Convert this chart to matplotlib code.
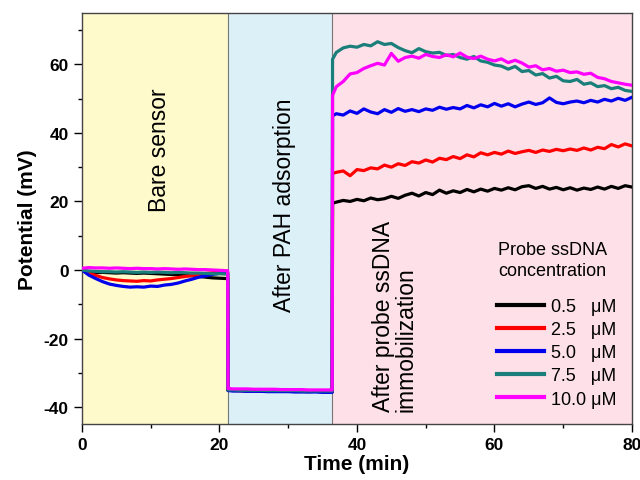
import numpy as np
import matplotlib
matplotlib.use('Agg')
import matplotlib.pyplot as plt
from matplotlib.ticker import MultipleLocator

plt.rcParams['font.family'] = ['Liberation Sans', 'DejaVu Sans']
plt.rcParams['axes.unicode_minus'] = False

# stage boundaries (min)
t_bare_end = 21.2
t_pah_end = 36.4

# time grids for the three stages
t_bare = list(range(0, 22)) + [21.2]
t_pah = [21.25] + list(range(22, 37)) + [36.4]
t_probe = [36.45] + list(range(37, 81))

labels = ['0.5   \u03bcM', '2.5   \u03bcM', '5.0   \u03bcM', '7.5   \u03bcM', '10.0 \u03bcM']
colors = ['#000000', '#ff0000', '#0000ee', '#1a7f7a', '#ff00ff']

# bare sensor (t = 0..21, 21.2)
bare_05 = [0, -0.6, -0.8, -0.7, -0.8, -0.9, -0.8, -0.9, -1.0, -0.9, -1.0, -1.1, -1.2, -1.3, -1.4,
           -1.6, -1.7, -1.9, -2.1, -2.3, -2.4, -2.5, -2.5]
bare_25 = [0, -0.9, -1.6, -2.2, -2.6, -2.9, -3.1, -3.2, -3.3, -3.1, -3.2, -2.9, -2.7, -2.5, -2.2,
           -1.9, -1.6, -1.3, -1.0, -0.8, -0.6, -0.7, -0.7]
bare_50 = [0, -1.5, -2.5, -3.4, -4.1, -4.5, -4.8, -5.0, -4.9, -5.0, -4.7, -4.8, -4.4, -4.2, -3.8,
           -3.2, -2.7, -2.1, -1.7, -1.3, -1.0, -1.0, -1.0]
bare_75 = [0, -0.3, -0.4, -0.5, -0.5, -0.6, -0.5, -0.6, -0.7, -0.6, -0.7, -0.6, -0.7, -0.8, -0.7,
           -0.8, -0.9, -0.9, -1.0, -1.1, -1.1, -1.2, -1.2]
bare_100 = [0.5, 0.7, 0.6, 0.6, 0.5, 0.6, 0.5, 0.4, 0.5, 0.4, 0.4, 0.3, 0.4, 0.3, 0.2,
            0.3, 0.2, 0.1, 0.1, 0.0, -0.1, -0.2, -0.2]

# after PAH adsorption (t = 21.25, 22..36, 36.4)
pah_05 = [-35.1, -35.2, -35.2, -35.3, -35.2, -35.3, -35.3, -35.4, -35.3, -35.4, -35.4, -35.4, -35.5,
          -35.4, -35.5, -35.5, -35.5]
pah_25 = [-35.1, -35.1, -35.2, -35.2, -35.2, -35.3, -35.2, -35.3, -35.3, -35.3, -35.4, -35.3, -35.4,
          -35.4, -35.4, -35.4, -35.4]
pah_50 = [-35.2, -35.3, -35.3, -35.4, -35.4, -35.4, -35.5, -35.5, -35.5, -35.5, -35.6, -35.6, -35.6,
          -35.6, -35.7, -35.7, -35.7]
pah_75 = [-35.0, -35.0, -35.1, -35.1, -35.1, -35.1, -35.2, -35.2, -35.2, -35.2, -35.2, -35.3, -35.3,
          -35.3, -35.3, -35.3, -35.3]
pah_100 = [-34.6, -34.7, -34.7, -34.7, -34.8, -34.8, -34.8, -34.8, -34.9, -34.9, -34.9, -34.9, -35.0,
           -35.0, -35.0, -35.0, -35.0]

# after probe ssDNA immobilization (t = 36.45, 37..80)
probe_05 = [19.5, 19.8, 20.3, 20.0, 20.6, 20.2, 21.0, 20.5, 20.8, 21.5, 20.9, 21.8, 22.4, 21.6, 22.6,
            22.0, 23.3, 22.4, 23.1, 22.6, 23.5, 22.8, 23.6, 23.0, 23.8, 23.3, 24.0, 23.4, 24.3, 24.6,
            23.8, 24.4, 23.6, 24.1, 23.4, 24.0, 23.3, 23.9, 23.5, 24.2, 23.6, 24.4, 23.8, 24.6, 24.2]
probe_25 = [28.2, 28.5, 28.9, 27.5, 29.3, 29.0, 29.8, 29.5, 30.6, 30.0, 31.0, 30.5, 31.6, 31.2, 32.1,
            31.5, 32.6, 32.2, 33.1, 32.5, 33.6, 33.0, 34.2, 33.6, 34.3, 33.8, 34.7, 34.0, 34.5, 34.9,
            34.3, 35.0, 34.6, 35.2, 34.8, 35.3, 34.9, 35.6, 35.0, 35.8, 35.4, 36.6, 35.9, 36.8, 36.2]
probe_50 = [45.0, 45.6, 45.2, 46.4, 45.7, 47.0, 46.1, 45.6, 46.8, 46.0, 47.1, 46.3, 46.8, 46.2, 47.0,
            46.6, 47.5, 46.9, 47.4, 47.0, 48.0, 47.3, 48.2, 47.6, 48.6, 47.8, 48.5, 47.6, 48.4, 49.0,
            48.3, 48.8, 50.2, 48.9, 48.5, 49.0, 49.3, 48.8, 49.5, 49.0, 49.8, 49.3, 50.1, 49.5, 50.4]
probe_75 = [61.5, 63.5, 64.8, 65.3, 65.0, 65.8, 65.4, 66.6, 65.8, 66.1, 64.9, 64.0, 63.4, 64.6, 63.7,
            63.3, 63.5, 62.6, 62.9, 62.0, 61.5, 62.3, 61.0, 60.6, 59.8, 59.5, 58.6, 59.4, 57.9, 58.2,
            56.9, 57.3, 56.0, 56.5, 55.2, 55.0, 55.6, 54.2, 54.6, 53.5, 53.8, 52.9, 53.3, 52.4, 52.1]
probe_100 = [51.0, 53.5, 55.0, 57.2, 57.6, 58.8, 59.6, 60.3, 59.8, 63.2, 60.9, 62.0, 62.4, 61.8, 62.9,
             62.3, 62.0, 62.8, 62.2, 63.3, 62.1, 61.7, 62.4, 61.5, 61.0, 61.6, 60.5, 61.2, 60.4, 59.2,
             59.6, 58.4, 58.8, 58.0, 58.3, 57.6, 57.8, 57.1, 57.4, 56.2, 55.8, 55.0, 54.6, 54.2, 53.9]

bare = [bare_05, bare_25, bare_50, bare_75, bare_100]
pah = [pah_05, pah_25, pah_50, pah_75, pah_100]
probe = [probe_05, probe_25, probe_50, probe_75, probe_100]

fig = plt.figure(figsize=(6.4, 4.81), dpi=100)
ax = fig.add_axes([0.128, 0.116, 0.8595, 0.855])

# stage backgrounds
ax.axvspan(0, t_bare_end, color='#fffacb', zorder=0)
ax.axvspan(t_bare_end, t_pah_end, color='#dcf0f7', zorder=0)
ax.axvspan(t_pah_end, 80, color='#fde0e8', zorder=0)
ax.axvline(t_bare_end, color='#777777', lw=0.8, zorder=1)
ax.axvline(t_pah_end, color='#777777', lw=0.8, zorder=1)

t_all = np.array(t_bare + t_pah + t_probe)
for b, p, q, c, lab in zip(bare, pah, probe, colors, labels):
    ax.plot(t_all, np.array(b + p + q), color=c, lw=2.3, label=lab, zorder=3)

ax.set_xlim(0, 80)
ax.set_ylim(-45, 75)
ax.xaxis.set_major_locator(MultipleLocator(20))
ax.xaxis.set_minor_locator(MultipleLocator(10))
ax.yaxis.set_major_locator(MultipleLocator(20))
ax.yaxis.set_minor_locator(MultipleLocator(10))
ax.tick_params(which='major', length=5.5, width=1, labelsize=12.5, pad=4)
ax.tick_params(which='minor', length=3, width=1)
for lbl in ax.get_xticklabels() + ax.get_yticklabels():
    lbl.set_fontweight('bold')
for s in ax.spines.values():
    s.set_linewidth(1.0)
    s.set_color('#444444')

ax.set_xlabel('Time (min)', fontsize=15, fontweight='bold', labelpad=1)
ax.set_ylabel('Potential (mV)', fontsize=15, fontweight='bold', labelpad=5)

ax.text(11.3, 35.3, 'Bare sensor', rotation=90, fontsize=16.5, ha='center', va='center')
ax.text(29.5, 19.2, 'After PAH adsorption', rotation=90, fontsize=16.5, ha='center', va='center')
ax.text(45.5, -41.2, 'After probe ssDNA\nimmobilization', rotation=90, fontsize=16.5,
        ha='center', va='bottom', multialignment='left', linespacing=1.0)

ax.text(60.5, 2.8, 'Probe ssDNA\nconcentration', fontsize=13, ha='left', va='center',
        linespacing=1.3)
leg = ax.legend(loc='upper left', bbox_to_anchor=(0.7545, 0.307), frameon=False, fontsize=13,
                handlelength=2.6, handletextpad=0.4, labelspacing=0.34, borderpad=0,
                borderaxespad=0)
for h in leg.get_lines():
    h.set_linewidth(3)

plt.savefig('out.png', dpi=100)
